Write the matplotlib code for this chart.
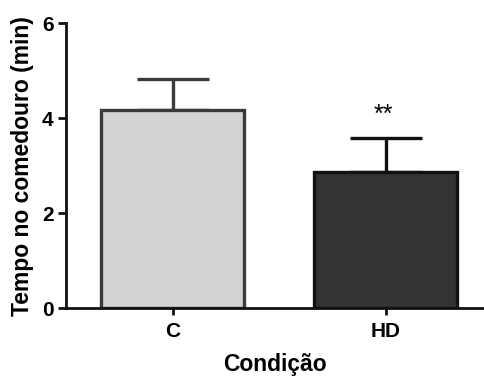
import matplotlib
matplotlib.use('Agg')
import matplotlib.pyplot as plt

plt.rcParams['font.family'] = ['Liberation Sans', 'DejaVu Sans']
plt.rcParams['font.weight'] = 'bold'

groups = ['C', 'HD']
means = [4.16, 2.86]
errors = [0.66, 0.71]
fill_colors = ['#d3d3d3', '#333333']
edge_colors = ['#3a3a3a', '#111111']
signif = ['', '**']

fig = plt.figure(figsize=(4.85, 3.78), dpi=100)
ax = fig.add_axes([0.136, 0.185, 0.862, 0.754])

x = range(len(groups))
for i in x:
    ax.bar(i, means[i], width=0.67, color=fill_colors[i], edgecolor=edge_colors[i],
           linewidth=2.4, zorder=2)
    ax.errorbar(i, means[i], yerr=[[0], [errors[i]]], fmt='none', ecolor=edge_colors[i],
                elinewidth=2.4, capsize=26, capthick=2.4, zorder=1)
    if signif[i]:
        ax.text(i - 0.01, 4.06, signif[i], ha='center', va='center',
                fontsize=18, fontweight='normal')

ax.set_xlim(-0.5, 1.46)
ax.set_ylim(0, 6)
ax.set_yticks([0, 2, 4, 6])
ax.set_xticks(list(x))
ax.set_xticklabels(groups)

for side in ['top', 'right']:
    ax.spines[side].set_visible(False)
for side in ['left', 'bottom']:
    ax.spines[side].set_linewidth(2)
    ax.spines[side].set_color('#111111')

ax.tick_params(axis='both', width=2, length=6, labelsize=15, pad=3, color='#111111')
ax.tick_params(axis='x', length=5, pad=5)
for lab in ax.get_xticklabels() + ax.get_yticklabels():
    lab.set_fontweight('bold')

ax.set_ylabel('Tempo no comedouro (min)', fontsize=16.5, fontweight='bold', labelpad=6)
ax.set_xlabel('Condição', fontsize=16.5, fontweight='bold', labelpad=9)

fig.savefig('out.png', dpi=100)
